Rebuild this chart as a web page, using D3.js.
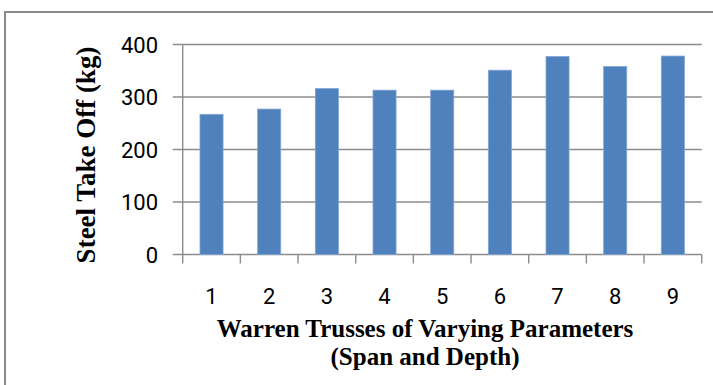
<!DOCTYPE html>
<html><head><meta charset="utf-8">
<script src="https://cdn.jsdelivr.net/npm/d3@7"></script>
<style>html,body{margin:0;padding:0;background:#fff;overflow:hidden}</style>
</head><body>
<script>
const categories = ["1","2","3","4","5","6","7","8","9"];
const values = [267, 277, 316, 313, 313, 351, 377, 358, 378];
const yTicks = [0, 100, 200, 300, 400];
const yTitle = "Steel Take Off (kg)";
const xTitle = ["Warren Trusses of Varying Parameters", "(Span and Depth)"];

const W = 713, H = 385;
const m = {left: 182.7, right: 701.7, top: 44.5, bottom: 254.5};
const svg = d3.select("body").append("svg").attr("width", W).attr("height", H);

svg.append("rect").attr("x", 5).attr("y", 12).attr("width", 720).attr("height", 400)
  .attr("fill", "none").attr("stroke", "#8a8a8a").attr("stroke-width", 2);

const x = d3.scaleBand().domain(categories).range([m.left, m.right]).paddingInner(0.6).paddingOuter(0.3);
const y = d3.scaleLinear().domain([0, 400]).range([m.bottom, m.top]);

const grid = "#8c8c8c";
svg.append("g").selectAll("line").data(yTicks).join("line")
  .attr("x1", m.left - 10).attr("x2", m.right)
  .attr("y1", d => y(d)).attr("y2", d => y(d))
  .attr("stroke", grid).attr("stroke-width", 1.4);
svg.append("line").attr("x1", m.left).attr("x2", m.left).attr("y1", m.top).attr("y2", m.bottom)
  .attr("stroke", grid).attr("stroke-width", 1.4);
const bounds = d3.range(categories.length + 1).map(i => m.left + i * (m.right - m.left) / categories.length);
svg.append("g").selectAll("line").data(bounds).join("line")
  .attr("x1", d => d).attr("x2", d => d).attr("y1", m.bottom).attr("y2", m.bottom + 9)
  .attr("stroke", grid).attr("stroke-width", 1.4);

svg.append("g").selectAll("rect").data(values).join("rect")
  .attr("x", (d, i) => x(categories[i])).attr("width", x.bandwidth())
  .attr("y", d => y(d)).attr("height", d => y(0) - y(d))
  .attr("fill", "#4f81bd").attr("stroke", "#7fa5d6").attr("stroke-width", 0.8);

svg.append("g").selectAll("text").data(yTicks).join("text")
  .attr("x", 158).attr("y", d => y(d) + 8)
  .attr("text-anchor", "end").attr("font-family", "Roboto").attr("font-size", 22)
  .attr("fill", "#000").text(d => d);

svg.append("g").selectAll("text").data(categories).join("text")
  .attr("x", d => x(d) + x.bandwidth() / 2).attr("y", 304)
  .attr("text-anchor", "middle").attr("font-family", "Roboto").attr("font-size", 22)
  .attr("fill", "#000").text(d => d);

svg.append("g").selectAll("text").data(xTitle).join("text")
  .attr("x", 425).attr("y", (d, i) => 337 + i * 28)
  .attr("text-anchor", "middle").attr("font-family", "Liberation Serif").attr("font-weight", "bold")
  .attr("font-size", 25).attr("fill", "#000").text(d => d);

svg.append("text").attr("transform", "translate(95,155) rotate(-90)")
  .attr("text-anchor", "middle").attr("font-family", "Liberation Serif").attr("font-weight", "bold")
  .attr("font-size", 27).attr("fill", "#000").text(yTitle);
</script>
</body></html>
